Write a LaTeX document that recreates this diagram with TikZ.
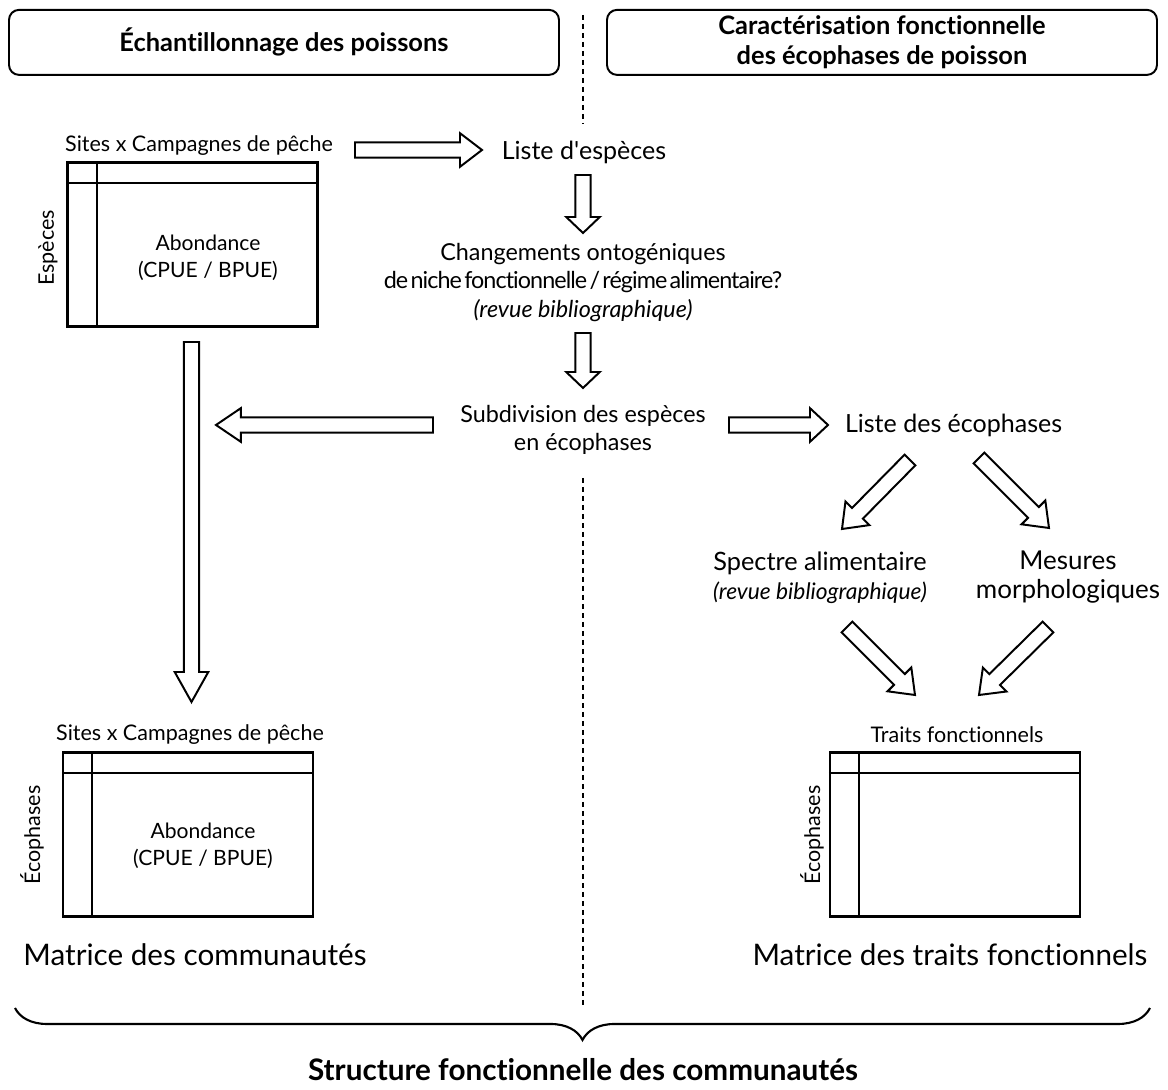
\documentclass[tikz,border=0pt]{standalone}
\usepackage{fontspec}
\setmainfont{Lato}[Ligatures=CommonOff]
\usetikzlibrary{calc,decorations.pathreplacing}

\newcommand\hollowarrow[3][.55cm]{%
  \coordinate (hb) at ($(#3)!#1!(#2)$);
  \draw[hollow] ($(#2)!.19cm!90:(#3)$) -- ($(hb)!.19cm!90:(#3)$) -- ($(hb)!.42cm!90:(#3)$) -- (#3)
    -- ($(hb)!.42cm!-90:(#3)$) -- ($(hb)!.19cm!-90:(#3)$) -- ($(#2)!.19cm!-90:(#3)$) -- cycle;}

\begin{document}
\begin{tikzpicture}[hollow/.style={draw=black,line width=1.4pt,fill=white},
  txt/.style={font=\fontsize{17.8}{20.5}\selectfont,align=center,inner sep=0pt},
  midtxt/.style={font=\fontsize{16.6}{20.3}\selectfont,align=center,inner sep=0pt},
  lbl/.style={font=\fontsize{15.3}{18}\selectfont,inner sep=0pt},
  bigtxt/.style={font=\fontsize{21.1}{24}\selectfont,inner sep=0pt},
  head/.style={draw,rounded corners=.25cm,line width=1.4pt,minimum width=13.75cm,minimum height=1.625cm,font=\bfseries\fontsize{18.1}{21.3}\selectfont,align=center},
  matbox/.style={draw,line width=1.6pt,minimum width=6.25cm,minimum height=4.1cm,inner sep=0pt},
  mline/.style={line width=1.6pt},
  sep/.style={line width=1.7pt,dash pattern=on 3.4pt off 3pt}]
\useasboundingbox (0,0) rectangle (29.2,27.25);
\node[head] (echant) at (7.1,26.19) {Échantillonnage des poissons};
\node[head] (caract) at (22.05,26.19) {Caractérisation fonctionnelle\\des écophases de poisson};
\draw[sep] (14.575,26.875) -- (14.575,24.175);
\draw[sep] (14.575,15.3) -- (14.575,2.125);
\node[matbox] (mat1) at (4.8125,21.1375) {};
\draw[mline] ([yshift=-.55cm]mat1.north west) -- ([yshift=-.55cm]mat1.north east);
\draw[mline] ([xshift=.76cm]mat1.north west) -- ([xshift=.76cm]mat1.south west);
\node[lbl] (sites1) at (4.975,23.6) {Sites x Campagnes de pêche};
\node[lbl,rotate=90] (esp1) at (1.2,21.05) {Espèces};
\node[txt,font=\fontsize{15}{19}\selectfont] (ab1) at (5.2,20.8) {Abondance\\(CPUE / BPUE)};
\node[txt] (liste) at (14.6,23.45) {Liste d\textquotesingle espèces};
\node[midtxt] (chang) at (14.575,20.1875) {Changements ontogéniques\\{\addfontfeatures{LetterSpace=-4}\spaceskip=.1em de niche fonctionnelle / régime alimentaire?}\\\textit{(revue bibliographique)}};
\node[midtxt] (subdiv) at (14.575,16.5) {Subdivision des espèces\\en écophases};
\node[txt] (listeeco) at (23.84,16.625) {Liste des écophases};
\node[txt,font=\fontsize{18}{20.6}\selectfont] (spectre) at (20.5,12.8125) {Spectre alimentaire\\{\fontsize{16.2}{20.6}\selectfont\textit{(revue bibliographique)}}};
\node[txt,font=\fontsize{18.5}{20.6}\selectfont] (mesures) at (26.7,12.825) {Mesures\\morphologiques};
\node[matbox] (mat2) at (4.7,6.3875) {};
\draw[mline] ([yshift=-.55cm]mat2.north west) -- ([yshift=-.55cm]mat2.north east);
\draw[mline] ([xshift=.76cm]mat2.north west) -- ([xshift=.76cm]mat2.south west);
\node[lbl] (sites2) at (4.75,8.875) {Sites x Campagnes de pêche};
\node[lbl,rotate=90] (eco2) at (0.8,6.375) {Écophases};
\node[txt,font=\fontsize{15}{19}\selectfont] (ab2) at (5.075,6.1) {Abondance\\(CPUE / BPUE)};
\node[bigtxt] (matcom) at (4.875,3.375) {Matrice des communautés};
\node[matbox] (mat3) at (23.875,6.3875) {};
\draw[mline] ([yshift=-.55cm]mat3.north west) -- ([yshift=-.55cm]mat3.north east);
\draw[mline] ([xshift=.76cm]mat3.north west) -- ([xshift=.76cm]mat3.south west);
\node[lbl] (traits) at (23.925,8.875) {Traits fonctionnels};
\node[lbl,rotate=90] (eco3) at (20.3,6.375) {Écophases};
\node[bigtxt] (mattr) at (23.75,3.375) {Matrice des traits fonctionnels};
\coordinate (a1s) at (8.875,23.5);
\coordinate (a1e) at (12.05,23.5);
\coordinate (a2s) at (14.575,22.875);
\coordinate (a2e) at (14.575,21.425);
\coordinate (a3s) at (14.575,18.925);
\coordinate (a3e) at (14.575,17.55);
\coordinate (a4s) at (10.825,16.625);
\coordinate (a4e) at (5.4,16.625);
\coordinate (a5s) at (18.225,16.625);
\coordinate (a5e) at (20.7,16.625);
\coordinate (a6s) at (4.7875,18.7);
\coordinate (a6e) at (4.7875,9.7);
\coordinate (d1s) at (22.75,15.75);
\coordinate (d1e) at (21.05,14.025);
\coordinate (d2s) at (24.475,15.8);
\coordinate (d2e) at (26.225,14.05);
\coordinate (d3s) at (21.175,11.575);
\coordinate (d3e) at (22.875,9.875);
\coordinate (d4s) at (26.2,11.575);
\coordinate (d4e) at (24.475,9.875);
\hollowarrow{a1s}{a1e}
\hollowarrow[.4cm]{a2s}{a2e}
\hollowarrow[.4cm]{a3s}{a3e}
\hollowarrow[.62cm]{a4s}{a4e}
\hollowarrow[.45cm]{a5s}{a5e}
\hollowarrow[.75cm]{a6s}{a6e}
\hollowarrow{d1s}{d1e}
\hollowarrow{d2s}{d2e}
\hollowarrow{d3s}{d3e}
\hollowarrow{d4s}{d4e}
\coordinate (bl) at (0.375,2.05);
\coordinate (br) at (28.75,2.05);
\draw[line width=1.5pt,decorate,decoration={brace,mirror,amplitude=.8cm}] (bl) -- (br);
\node[txt,font=\bfseries\fontsize{21.1}{24}\selectfont] (struct) at (14.575,0.5) {Structure fonctionnelle des communautés};
\end{tikzpicture}
\end{document}
